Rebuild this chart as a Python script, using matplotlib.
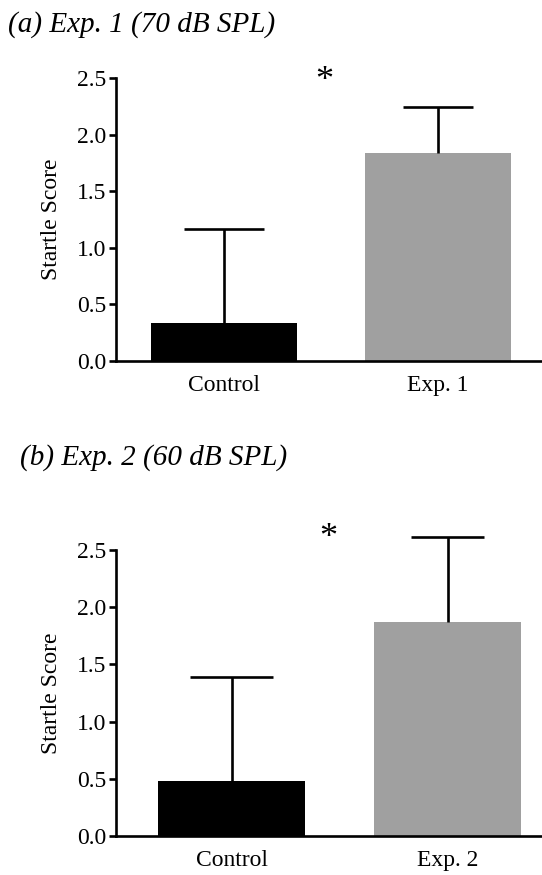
import matplotlib
matplotlib.use("Agg")
import matplotlib.pyplot as plt

# panel (a)
groups_a = ["Control", "Exp. 1"]
means_a = [0.34, 1.84]
err_top_a = [1.17, 2.24]
star_a = (0.47, 2.47)

# panel (b)
groups_b = ["Control", "Exp. 2"]
means_b = [0.48, 1.87]
err_top_b = [1.39, 2.61]
star_b = (0.45, 2.60)

bar_colors = ["#000000", "#a0a0a0"]
yticks = [0.0, 0.5, 1.0, 1.5, 2.0, 2.5]

plt.rcParams.update({
    "font.family": ["Liberation Serif", "DejaVu Serif"],
    "axes.linewidth": 1.9,
})

fig = plt.figure(figsize=(5.42, 8.75), dpi=100)


def draw_panel(rect, groups, means, err_top, star, xlim, cap_half, title, title_xy):
    ax = fig.add_axes(rect)
    x = list(range(len(groups)))
    ax.bar(x, means, width=0.68, color=bar_colors, edgecolor="none", zorder=2)
    # upper-only error bars, no cap at the bar top
    for xi, m, top, hw in zip(x, means, err_top, cap_half):
        ax.vlines(xi, m, top, colors="black", linewidth=1.9, zorder=3, clip_on=False)
        ax.hlines(top, xi - hw, xi + hw, colors="black", linewidth=1.9, zorder=3, clip_on=False)
    ax.text(star[0], star[1], "*", fontsize=26, ha="center", va="center", clip_on=False)

    ax.set_xlim(*xlim)
    ax.set_ylim(0, 2.5)
    ax.set_yticks(yticks)
    ax.set_yticklabels([f"{v:.1f}" for v in yticks], fontsize=17)
    ax.set_xticks(x)
    ax.set_xticklabels(groups, fontsize=17)
    ax.tick_params(axis="x", length=0, pad=10)
    ax.tick_params(axis="y", length=5, width=1.9, pad=2)
    ax.set_ylabel("Startle Score", fontsize=17, labelpad=11)
    ax.spines["top"].set_visible(False)
    ax.spines["right"].set_visible(False)
    fig.text(title_xy[0], title_xy[1], title, fontsize=21, style="italic", va="baseline")
    return ax


draw_panel([0.214, 0.5874, 0.786, 0.3234], groups_a, means_a, err_top_a, star_a,
           (-0.505, 1.486), [0.187, 0.163], "(a) Exp. 1 (70 dB SPL)", (0.015, 0.9634))
draw_panel([0.214, 0.0446, 0.786, 0.3269], groups_b, means_b, err_top_b, star_b,
           (-0.535, 1.4375), [0.19, 0.168], "(b) Exp. 2 (60 dB SPL)", (0.037, 0.4686))

fig.savefig("out.png", dpi=100)
